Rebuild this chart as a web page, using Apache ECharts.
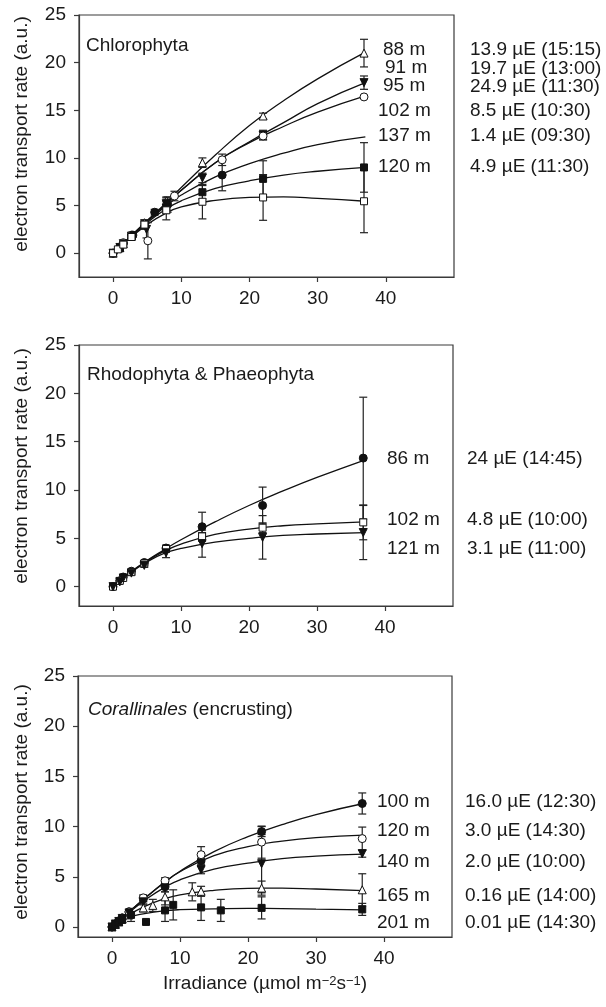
<!DOCTYPE html>
<html>
<head>
<meta charset="utf-8">
<script src="https://cdn.jsdelivr.net/npm/echarts@6/dist/echarts.min.js"></script>
<style>
html,body{margin:0;padding:0;background:#fff;}
#chart{width:606px;height:1007px;}
</style>
</head>
<body>
<div id="chart"></div>
<script>
// ---------------- DATA ----------------
const xTicks = [0, 10, 20, 30, 40];
const yTicks = [0, 5, 10, 15, 20, 25];
const panelTitles = ['Chlorophyta', 'Rhodophyta & Phaeophyta', '{it|Corallinales} (encrusting)'];
const yAxisTitle = 'electron transport rate (a.u.)';
const xAxisTitle = 'Irradiance (\u00b5mol m{sup|\u22122}s{sup|\u22121})';

// Panel 1 – Chlorophyta  [irradiance, ETR, error]
const chl88Pts  = [[0,0,0],[1,0.6,0],[1.5,1.0,0],[2.7,1.8,0.2],[4.6,3.2,0.3],[7.8,5.5,0.4],[13.1,9.5,0.5],[22,14.4,0.3],[36.8,21.0,1.45]];
const chl88Fit  = [[0,0],[2.5,1.7],[5,3.4],[7.5,5.1],[10,6.9],[15,10.3],[20,13.4],[25,16.0],[30,18.3],[37,21.1]];
const chl91Pts  = [[0,0,0],[1,0.6,0],[1.5,1.0,0],[2.7,1.8,0.2],[4.9,2.5,0.9],[7.8,5.2,0.6],[13.1,7.9,0.5],[22,12.4,0.5],[36.8,17.9,0.7]];
const chl91Fit  = [[0,0],[2.5,1.7],[5,3.4],[7.5,5.0],[10,6.6],[15,9.5],[20,11.7],[25,13.7],[30,15.7],[37,17.9]];
const chl95Pts  = [[0,0,0],[1,0.6,0],[1.5,1.1,0],[2.7,1.9,0.2],[5.1,1.3,1.9],[9,6.0,0.5],[16,9.8,0.6],[22,12.3,0.4],[36.8,16.4,0]];
const chl95Fit  = [[0,0],[2.5,1.7],[5,3.4],[7.5,5.0],[10,6.6],[15,9.5],[20,11.6],[25,13.3],[30,14.8],[37,16.5]];
const chl102Pts = [[0,0,0],[1,0.6,0],[1.5,1.0,0],[2.9,1.9,0.2],[6.1,4.3,0.3],[8,5.1,0.8],[16,8.2,1.65]];
const chl102Fit = [[0,0],[2.5,1.7],[5,3.3],[7.5,4.8],[10,6.1],[15,8.0],[20,9.4],[25,10.5],[30,11.4],[37,12.2]];
const chl137Pts = [[0,0,0],[1,0.5,0],[2.7,1.7,0.2],[4.6,3.0,0.4],[7.8,4.8,0.6],[13.1,6.4,0.7],[22,7.8,1.9],[36.8,9.0,2.6]];
const chl137Fit = [[0,0],[2.5,1.65],[5,3.2],[7.5,4.5],[10,5.5],[15,6.8],[20,7.6],[25,8.2],[30,8.6],[37,9.0]];
const chl120Pts = [[0,0,0],[0.7,0.4,0],[1.5,0.9,0],[2.7,1.7,0.2],[4.6,3.0,0.5],[7.8,4.5,1.0],[13.1,5.4,1.8],[22,5.85,2.4],[36.8,5.45,3.3]];
const chl120Fit = [[0,0],[2.5,1.6],[5,3.0],[7.5,4.1],[10,4.85],[15,5.55],[20,5.85],[25,5.9],[30,5.75],[37,5.45]];
const chlDepths = ['88 m', '91 m', '95 m', '102 m', '137 m', '120 m'];
const chlDoses  = ['13.9 \u00b5E (15:15)', '19.7 \u00b5E (13:00)', '24.9 \u00b5E (11:30)', '8.5 \u00b5E (10:30)', '1.4 \u00b5E (09:30)', '4.9 \u00b5E (11:30)'];

// Panel 2 – Rhodophyta & Phaeophyta
const rp86Pts  = [[0,0,0],[1,0.6,0],[1.5,1.0,0],[2.7,1.6,0.2],[4.6,2.5,0.2],[7.8,4.0,0.3],[13.1,6.2,1.5],[22,8.4,1.9],[36.8,13.3,6.3]];
const rp86Fit  = [[0,0],[2.5,1.45],[5,2.7],[7.5,3.8],[10,4.85],[15,6.7],[20,8.4],[25,9.9],[30,11.3],[37,13.1]];
const rp102Pts = [[0,0,0],[1,0.6,0],[1.5,0.9,0],[2.7,1.5,0.2],[4.6,2.4,0.2],[7.8,3.9,0.3],[13.1,5.2,0.4],[22,6.1,0.5],[36.8,6.65,1.8]];
const rp102Fit = [[0,0],[2.5,1.45],[5,2.65],[7.5,3.65],[10,4.4],[15,5.4],[20,5.95],[25,6.3],[30,6.5],[37,6.7]];
const rp121Pts = [[0,0,0],[1,0.5,0],[1.5,0.9,0],[2.7,1.4,0.2],[4.6,2.2,0.2],[7.8,3.5,0.5],[13.1,4.45,1.4],[22,5.1,2.25],[36.8,5.6,2.8]];
const rp121Fit = [[0,0],[2.5,1.4],[5,2.55],[7.5,3.45],[10,3.95],[15,4.6],[20,5.0],[25,5.3],[30,5.45],[37,5.6]];
const rpDepths = ['86 m', '102 m', '121 m'];
const rpDoses  = ['24 \u00b5E (14:45)', '4.8 \u00b5E (10:00)', '3.1 \u00b5E (11:00)'];

// Panel 3 – Corallinales (encrusting)
const cor100Pts = [[0,0,0],[0.5,0.3,0],[1,0.6,0],[1.5,0.9,0],[2.5,1.5,0.2],[4.6,2.8,0.3],[7.8,4.0,0.5],[13.1,6.6,0.4],[22,9.5,0.5],[36.8,12.3,1.05]];
const cor100Fit = [[0,0],[2.5,1.5],[5,2.95],[7.5,4.35],[10,5.55],[15,7.5],[20,9.0],[25,10.2],[30,11.2],[37,12.3]];
const cor120Pts = [[0,0,0],[0.5,0.3,0],[1,0.6,0],[1.5,0.9,0],[2.5,1.5,0.2],[4.6,2.9,0.3],[7.8,4.6,0.3],[13.1,7.2,0.8],[22,8.45,1.6],[36.8,8.8,1.15]];
const cor120Fit = [[0,0],[2.5,1.5],[5,2.95],[7.5,4.3],[10,5.5],[15,7.1],[20,8.0],[25,8.55],[30,8.9],[37,9.15]];
const cor140Pts = [[0,0,0],[0.5,0.3,0],[1,0.55,0],[1.5,0.85,0],[2.5,1.4,0.2],[4.6,2.5,0.3],[7.8,3.9,0.4],[13.1,5.7,0.4],[22,6.3,2.9],[36.8,7.3,0.35]];
const cor140Fit = [[0,0],[2.5,1.45],[5,2.75],[7.5,3.85],[10,4.7],[15,5.75],[20,6.35],[25,6.8],[30,7.05],[37,7.25]];
const cor165Pts = [[0,0,0],[0.5,0.25,0],[1,0.5,0],[1.5,0.8,0],[2.5,1.2,0.2],[4.6,1.9,0.4],[6,2.15,0.6],[7.8,3.0,0.8],[11.8,3.5,0.9],[13.1,3.55,0.5],[22,3.87,0.7],[36.8,3.7,1.6]];
const cor165Fit = [[0,0],[2.5,1.2],[5,2.1],[7.5,2.75],[10,3.2],[15,3.65],[20,3.85],[25,3.87],[30,3.78],[37,3.62]];
const cor201Pts = [[0,0,0],[0.5,0.25,0],[1,0.5,0],[1.5,0.7,0],[2.8,1.2,0.65],[5,0.5,0.15],[7.8,1.65,1.1],[9,2.2,1.5],[13.1,1.95,1.3],[16,1.65,1.1],[22,1.9,1.1],[36.8,1.75,0.6]];
const cor201Fit = [[0,0],[2.5,0.95],[5,1.35],[7.5,1.6],[10,1.72],[15,1.8],[20,1.85],[25,1.83],[30,1.78],[37,1.7]];
const corDepths = ['100 m', '120 m', '140 m', '165 m', '201 m'];
const corDoses  = ['16.0 \u00b5E (12:30)', '3.0 \u00b5E (14:30)', '2.0 \u00b5E (10:00)', '0.16 \u00b5E (14:00)', '0.01 \u00b5E (14:30)'];

// ---------------- STYLE / LAYOUT ----------------
const FONT = '"Liberation Sans", Arial, Helvetica, sans-serif';
const FS = 19;
const TXT = '#1a1a1a';
const AX = '#3a3a3a';

const grids = [
  {left: 79, top: 15,  width: 375, height: 262},
  {left: 79, top: 345, width: 374, height: 261},
  {left: 78, top: 676, width: 374, height: 261}
];
const yMins = [-2.5, -2, -1];

const SYM = {
  openTri:   {symbol: 'triangle', rotate: 0,   fill: '#fff', size: 8},
  downTri:   {symbol: 'triangle', rotate: 180, fill: '#111', size: 8},
  openCirc:  {symbol: 'circle',   rotate: 0,   fill: '#fff', size: 8},
  fillCirc:  {symbol: 'circle',   rotate: 0,   fill: '#111', size: 8},
  fillSq:    {symbol: 'rect',     rotate: 0,   fill: '#111', size: 7},
  openSq:    {symbol: 'rect',     rotate: 0,   fill: '#fff', size: 7}
};

const groups = [
  [0, chl88Pts, chl88Fit, 'openTri'],
  [0, chl91Pts, chl91Fit, 'downTri'],
  [0, chl95Pts, chl95Fit, 'openCirc'],
  [0, chl102Pts, chl102Fit, 'fillCirc'],
  [0, chl137Pts, chl137Fit, 'fillSq'],
  [0, chl120Pts, chl120Fit, 'openSq'],
  [1, rp86Pts, rp86Fit, 'fillCirc'],
  [1, rp102Pts, rp102Fit, 'openSq'],
  [1, rp121Pts, rp121Fit, 'downTri'],
  [2, cor100Pts, cor100Fit, 'fillCirc'],
  [2, cor120Pts, cor120Fit, 'openCirc'],
  [2, cor140Pts, cor140Fit, 'downTri'],
  [2, cor165Pts, cor165Fit, 'openTri'],
  [2, cor201Pts, cor201Fit, 'fillSq']
];

const xAxes = grids.map((g, i) => ({
  type: 'value', gridIndex: i, min: -5, max: 50,
  axisLine: {show: true, onZero: false, lineStyle: {color: AX, width: 1.2}},
  axisTick: {show: true, length: 5, customValues: xTicks, lineStyle: {color: AX, width: 1.2}},
  axisLabel: {show: true, customValues: xTicks, margin: 12, color: TXT, fontSize: FS, fontFamily: FONT},
  splitLine: {show: false}
}));
const yAxes = grids.map((g, i) => ({
  type: 'value', gridIndex: i, min: yMins[i], max: 25,
  axisLine: {show: true, onZero: false, lineStyle: {color: AX, width: 1.2}},
  axisTick: {show: true, length: 5, customValues: yTicks, lineStyle: {color: AX, width: 1.2}},
  axisLabel: {show: true, customValues: yTicks, margin: 13, color: TXT, fontSize: FS, fontFamily: FONT},
  splitLine: {show: false}
}));

const series = [];
groups.forEach(([gi, pts, fit, symKey]) => {
  const s = SYM[symKey];
  series.push({
    type: 'line', xAxisIndex: gi, yAxisIndex: gi, data: fit,
    smooth: 0.5, showSymbol: false, symbol: 'none',
    lineStyle: {color: '#111', width: 1.3}, z: 2, silent: true, animation: false
  });
  series.push({
    type: 'custom', xAxisIndex: gi, yAxisIndex: gi, data: pts,
    encode: {x: 0, y: 1}, z: 3, silent: true, animation: false,
    renderItem: function (params, api) {
      const x = api.value(0), y = api.value(1), e = api.value(2);
      if (!e) return null;
      const top = api.coord([x, y + e]);
      const bot = api.coord([x, y - e]);
      const hw = 4;
      const st = {stroke: '#222', lineWidth: 1.2};
      return {type: 'group', children: [
        {type: 'line', shape: {x1: top[0], y1: top[1], x2: bot[0], y2: bot[1]}, style: st},
        {type: 'line', shape: {x1: top[0] - hw, y1: top[1], x2: top[0] + hw, y2: top[1]}, style: st},
        {type: 'line', shape: {x1: bot[0] - hw, y1: bot[1], x2: bot[0] + hw, y2: bot[1]}, style: st}
      ]};
    }
  });
  series.push({
    type: 'scatter', xAxisIndex: gi, yAxisIndex: gi,
    data: pts.map(p => [p[0], p[1]]),
    symbol: s.symbol, symbolRotate: s.rotate, symbolSize: s.size,
    itemStyle: {color: s.fill, borderColor: '#111', borderWidth: 1, opacity: 1},
    z: 4, silent: true, animation: false
  });
});

// ---------------- TEXT ANNOTATIONS ----------------
const graphic = [];
function txt(x, y, text, opt) {
  graphic.push(Object.assign({
    type: 'text', x: x, y: y, silent: true,
    style: Object.assign({text: text, fill: TXT, fontSize: FS, fontFamily: FONT, align: 'left', verticalAlign: 'middle'}, opt || {})
  }));
}
[134, 466, 802].forEach(cy => {
  graphic.push({type: 'text', x: 22, y: cy, rotation: Math.PI / 2, silent: true,
    style: {text: yAxisTitle, fill: TXT, fontSize: FS, fontFamily: FONT, align: 'center', verticalAlign: 'middle'}});
});
txt(86, 46, panelTitles[0]);
txt(87, 375, panelTitles[1]);
txt(88, 710, panelTitles[2], {rich: {it: {fontStyle: 'italic', fontSize: FS, fontFamily: FONT, fill: TXT}}});

const p1DepthPos = [[383, 50], [385, 68], [383, 86], [378, 111], [378, 136], [378, 167]];
const p1DoseY = [50, 69, 87, 111, 136, 167];
chlDepths.forEach((t, i) => txt(p1DepthPos[i][0], p1DepthPos[i][1], t));
chlDoses.forEach((t, i) => txt(470, p1DoseY[i], t));
const p2Y = [459, 520, 549];
rpDepths.forEach((t, i) => txt(387, p2Y[i], t));
rpDoses.forEach((t, i) => txt(467, p2Y[i], t));
const p3Y = [802, 831, 862, 896, 923];
corDepths.forEach((t, i) => txt(377, p3Y[i], t));
corDoses.forEach((t, i) => txt(465, p3Y[i], t));

graphic.push({type: 'text', x: 265, y: 984, silent: true,
  style: {text: xAxisTitle, fill: TXT, fontSize: FS, fontFamily: FONT, align: 'center', verticalAlign: 'middle',
    rich: {sup: {fontSize: 13, fontFamily: FONT, fill: TXT, verticalAlign: 'top', lineHeight: 12}}}});

const chart = echarts.init(document.getElementById('chart'), null, {renderer: 'canvas'});
chart.setOption({
  animation: false,
  backgroundColor: '#fff',
  grid: grids.map(g => Object.assign({show: true, borderColor: AX, borderWidth: 1.2, backgroundColor: 'transparent', containLabel: false}, g)),
  xAxis: xAxes,
  yAxis: yAxes,
  series: series,
  graphic: graphic
});
</script>
</body>
</html>
